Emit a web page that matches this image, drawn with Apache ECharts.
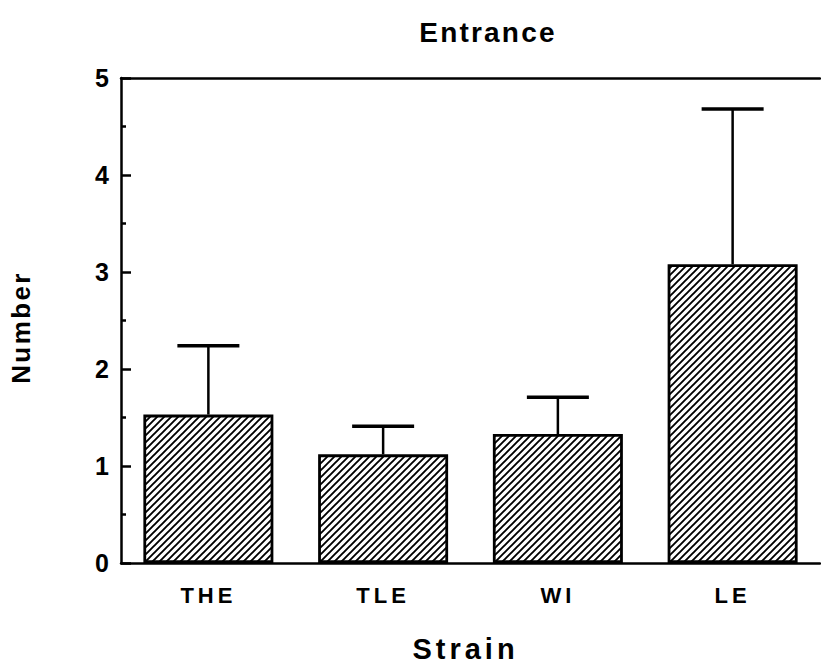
<!DOCTYPE html>
<html>
<head>
<meta charset="utf-8">
<script src="https://cdn.jsdelivr.net/npm/echarts@6/dist/echarts.min.js"></script>
<style>
  html, body { margin: 0; padding: 0; background: #fff; }
  #chart { width: 821px; height: 670px; }
  #chart svg text { letter-spacing: 3px; }
  #chart svg text[style*="28px"] { letter-spacing: 2.2px; }
  #chart svg text[style*="29px"] { letter-spacing: 4px; }
  #chart svg text[style*="26px"] { letter-spacing: 2.4px; }
  #chart svg text[style*="22px"] { letter-spacing: 4px; }
  #chart svg text[style*="25px"] { letter-spacing: 0px; }
</style>
</head>
<body>
<div id="chart"></div>
<script>
// Data
const categories = ['THE', 'TLE', 'WI', 'LE'];
const means = [1.53, 1.12, 1.33, 3.08];
const upperErrors = [2.24, 1.41, 1.71, 4.68];
const yTicks = [0, 1, 2, 3, 4, 5];

// hatch pattern tile
function hatch() {
  const s = 7;
  const c = document.createElement('canvas');
  c.width = s; c.height = s;
  const ctx = c.getContext('2d');
  ctx.fillStyle = '#fff';
  ctx.fillRect(0, 0, s, s);
  ctx.strokeStyle = '#000';
  ctx.lineWidth = 1.9;
  ctx.beginPath();
  ctx.moveTo(-1, s + 1); ctx.lineTo(s + 1, -1);
  ctx.moveTo(-1, 1); ctx.lineTo(1, -1);
  ctx.moveTo(s - 1, s + 1); ctx.lineTo(s + 1, s - 1);
  ctx.stroke();
  return c.toDataURL();
}

const font = 'Liberation Sans, Arial, Helvetica, sans-serif';
const chart = echarts.init(document.getElementById('chart'), null, { renderer: 'svg' });

const errData = categories.map((c, i) => [i, means[i], upperErrors[i]]);

chart.setOption({
  animation: false,
  backgroundColor: '#fff',
  title: {
    text: 'Entrance',
    left: 483,
    textAlign: 'center',
    top: 13,
    textStyle: { fontFamily: font, fontWeight: 'bold', fontSize: 28, color: '#000' }
  },
  grid: { left: 121, right: 1, top: 78, bottom: 107, containLabel: false },
  xAxis: [{
    type: 'category',
    data: categories,
    position: 'bottom',
    boundaryGap: true,
    axisLine: { show: true, lineStyle: { color: '#000', width: 2.5 } },
    axisTick: { show: false },
    axisLabel: { margin: 21, color: '#000', fontFamily: font, fontWeight: 'bold', fontSize: 22 },
    name: 'Strain',
    nameLocation: 'middle',
    nameGap: 71,
    nameTextStyle: { fontFamily: font, fontWeight: 'bold', fontSize: 29, color: '#000', padding: [0, 10, 0, 0] },
    splitLine: { show: false }
  }, {
    type: 'category',
    data: categories,
    position: 'top',
    axisLine: { show: true, lineStyle: { color: '#000', width: 2.5 } },
    axisTick: { show: false },
    axisLabel: { show: false },
    splitLine: { show: false }
  }],
  yAxis: {
    type: 'value',
    min: yTicks[0],
    max: yTicks[yTicks.length - 1],
    interval: 1,
    axisLine: { show: true, lineStyle: { color: '#000', width: 2.5 } },
    axisTick: { show: true, inside: true, length: 10, lineStyle: { color: '#000', width: 2.5 } },
    minorTick: { show: true, splitNumber: 2, length: 5, lineStyle: { color: '#000', width: 2.5 } },
    axisLabel: { margin: 12, color: '#000', fontFamily: font, fontWeight: 'bold', fontSize: 25 },
    splitLine: { show: false },
    name: 'Number',
    nameLocation: 'middle',
    nameGap: 87,
    nameRotate: 90,
    nameTextStyle: { fontFamily: font, fontWeight: 'bold', fontSize: 26, color: '#000', padding: [0, 14, 0, 0] }
  },
  series: [{
    type: 'bar',
    data: means,
    barWidth: 130,
    itemStyle: {
      color: { image: hatch(), repeat: 'repeat' },
      borderColor: '#000',
      borderWidth: 2.8
    },
    z: 2
  }, {
    type: 'custom',
    data: errData,
    z: 3,
    renderItem: function (params, api) {
      const base = api.coord([api.value(0), api.value(1)]);
      const top = api.coord([api.value(0), api.value(2)]);
      const hw = 31;
      return {
        type: 'group',
        children: [{
          type: 'line',
          shape: { x1: base[0], y1: base[1], x2: base[0], y2: top[1] },
          style: { stroke: '#000', lineWidth: 2.5 }
        }, {
          type: 'line',
          shape: { x1: base[0] - hw, y1: top[1], x2: base[0] + hw, y2: top[1] },
          style: { stroke: '#000', lineWidth: 3.5 }
        }]
      };
    }
  }]
});
</script>
</body>
</html>
